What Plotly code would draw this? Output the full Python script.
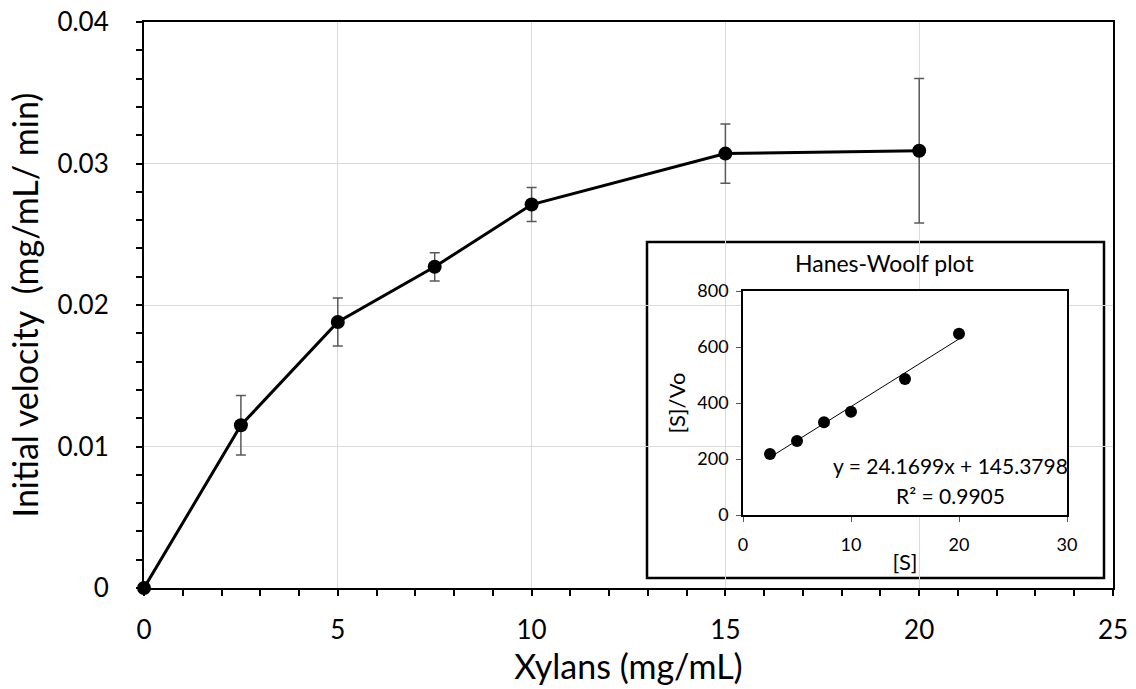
import plotly.graph_objects as go

# Main data
xylans = [0, 2.5, 5, 7.5, 10, 15, 20]
velocity = [0, 0.0115, 0.0188, 0.0227, 0.0271, 0.0307, 0.0309]
velocity_err = [0, 0.0021, 0.0017, 0.0010, 0.0012, 0.0021, 0.0051]

# Inset (Hanes-Woolf) data
s_vals = [2.5, 5, 7.5, 10, 15, 20]
s_over_vo = [218, 264, 331, 369, 486, 647]
slope = 24.1699
intercept = 145.3798
r2 = 0.9905

main_xticks = [0, 5, 10, 15, 20, 25]
main_yticks = [0, 0.01, 0.02, 0.03, 0.04]
main_yticktext = ["0", "0.01", "0.02", "0.03", "0.04"]
inset_xticks = [0, 10, 20, 30]
inset_yticks = [0, 200, 400, 600, 800]

FONT = "Lato"

fig = go.Figure()

fig.add_trace(go.Scatter(
    x=xylans, y=velocity, mode="lines+markers",
    line=dict(color="black", width=3),
    marker=dict(color="black", size=14),
    error_y=dict(type="data", array=velocity_err, color="#595959", thickness=1.5, width=5),
    xaxis="x", yaxis="y", showlegend=False, cliponaxis=False,
))

fig.add_trace(go.Scatter(
    x=s_vals, y=s_over_vo, mode="markers",
    marker=dict(color="black", size=12),
    xaxis="x2", yaxis="y2", showlegend=False,
))
trend_x = [s_vals[0], s_vals[-1]]
trend_y = [slope * v + intercept for v in trend_x]
fig.add_trace(go.Scatter(
    x=trend_x, y=trend_y, mode="lines",
    line=dict(color="black", width=1),
    xaxis="x2", yaxis="y2", showlegend=False,
))

# White inset background box (covers main gridlines)
fig.add_shape(type="rect", xref="paper", yref="paper",
              x0=(647 - 144) / 969, x1=(1104 - 144) / 969,
              y0=(588 - 578) / 566, y1=(588 - 242) / 566,
              fillcolor="white", line=dict(color="black", width=2.5),
              layer="between")

fig.update_layout(
    width=1136, height=689,
    margin=dict(l=144, r=23, t=22, b=101, autoexpand=False),
    paper_bgcolor="white", plot_bgcolor="white",
    font=dict(family=FONT, color="black"),
    xaxis=dict(
        range=[0, 25], tickvals=main_xticks, showgrid=True, gridcolor="#d9d9d9", gridwidth=1,
        showline=True, linecolor="black", linewidth=2, mirror=True,
        ticks="outside", ticklen=6, tickcolor="black", tickwidth=1.5,
        minor=dict(dtick=1, ticks="outside", ticklen=6, tickcolor="black", tickwidth=1.5, showgrid=False),
        tickfont=dict(size=26), zeroline=False, ticklabelstandoff=12, automargin=False,
        title=dict(text="Xylans (mg/mL)", font=dict(size=34), standoff=0),
    ),
    yaxis=dict(
        range=[0, 0.04], tickvals=main_yticks, ticktext=main_yticktext,
        showgrid=True, gridcolor="#d9d9d9", gridwidth=1,
        showline=True, linecolor="black", linewidth=2, mirror=True,
        ticks="outside", ticklen=6, tickcolor="black", tickwidth=1.5,
        minor=dict(dtick=0.002, ticks="outside", ticklen=6, tickcolor="black", tickwidth=1.5, showgrid=False),
        tickfont=dict(size=26), zeroline=False, ticklabelstandoff=22, automargin=False,
        title=dict(text="Initial velocity\u00a0 (mg/mL/ min)", font=dict(size=34), standoff=9),
    ),
    xaxis2=dict(
        domain=[(743 - 144) / 969, (1067 - 144) / 969], anchor="y2",
        range=[0, 30], tickvals=inset_xticks, showgrid=False, zeroline=False,
        showline=True, linecolor="black", linewidth=1.5, mirror=True,
        ticks="outside", ticklen=5, tickcolor="#595959", automargin=False,
        tickfont=dict(size=18), ticklabelstandoff=8,
        title=dict(text="[S]", font=dict(size=22), standoff=0),
    ),
    yaxis2=dict(
        domain=[(588 - 515) / 566, (588 - 291) / 566], anchor="x2",
        range=[0, 800], tickvals=inset_yticks, showgrid=False, zeroline=False,
        showline=True, linecolor="black", linewidth=1.5, mirror=True,
        ticks="outside", ticklen=5, tickcolor="#595959", automargin=False,
        tickfont=dict(size=18), ticklabelstandoff=4,
        title=dict(text="[S]/Vo", font=dict(size=22), standoff=6),
    ),
    annotations=[
        dict(text="Hanes-Woolf plot", xref="paper", yref="paper",
             x=(884 - 144) / 969, y=(588 - 263) / 566, showarrow=False,
             font=dict(size=23), xanchor="center", yanchor="middle"),
        dict(text=f"y = {slope}x + {intercept}", xref="x2", yref="y2",
             x=19.2, y=(515 - 465) / 0.28, showarrow=False,
             font=dict(size=21), xanchor="center", yanchor="middle"),
        dict(text=f"R² = {r2}", xref="x2", yref="y2",
             x=19.2, y=(515 - 495) / 0.28, showarrow=False,
             font=dict(size=21), xanchor="center", yanchor="middle"),
    ],
)

fig.write_html("out.html")
